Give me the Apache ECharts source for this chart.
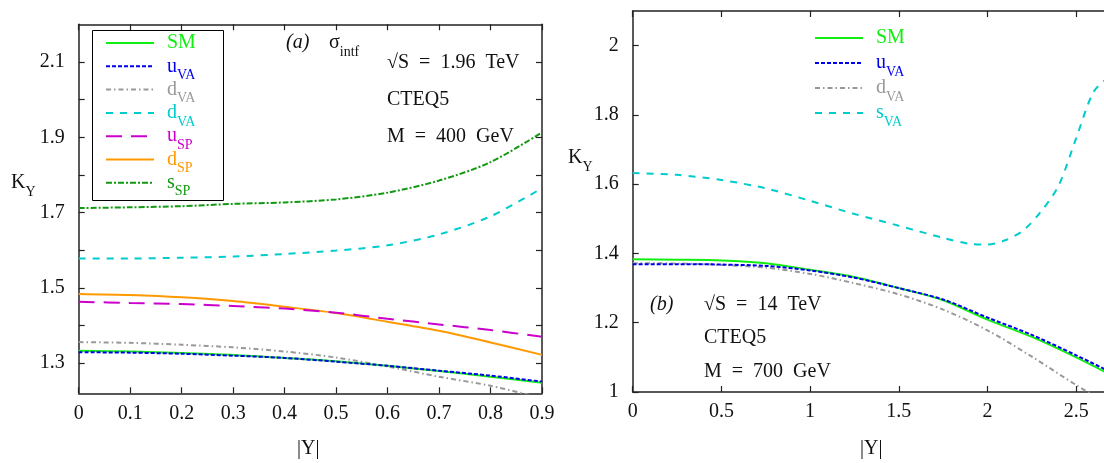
<!DOCTYPE html>
<html>
<head>
<meta charset="utf-8">
<script src="https://cdn.jsdelivr.net/npm/echarts@6/dist/echarts.min.js"></script>
<style>
html, body { margin: 0; padding: 0; background: #fff; }
#chart { width: 1104px; height: 463px; }
</style>
</head>
<body>
<div id="chart"></div>
<script>
// panel (a): sqrt(S) = 1.96 TeV, |Y| 0 .. 0.9
const xA = [0, 0.1, 0.2, 0.3, 0.4, 0.5, 0.6, 0.7, 0.8, 0.9]
const smA = [1.333, 1.331, 1.327, 1.322, 1.314, 1.305, 1.293, 1.279, 1.264, 1.248]
const uVaA = [1.329, 1.328, 1.325, 1.320, 1.314, 1.304, 1.293, 1.280, 1.267, 1.251]
const dVaGrayA = [1.356, 1.354, 1.349, 1.342, 1.331, 1.315, 1.291, 1.264, 1.240, 1.207]
const dVaCyanA = [1.578, 1.578, 1.580, 1.583, 1.590, 1.599, 1.613, 1.642, 1.690, 1.765]
const uSpA = [1.463, 1.460, 1.457, 1.452, 1.445, 1.434, 1.418, 1.403, 1.388, 1.370]
const dSpA = [1.484, 1.481, 1.475, 1.465, 1.450, 1.433, 1.410, 1.386, 1.355, 1.322]
const sSpA = [1.712, 1.714, 1.717, 1.723, 1.727, 1.735, 1.753, 1.785, 1.834, 1.913]

// panel (b): sqrt(S) = 14 TeV
const xB = [0, 0.25, 0.5, 0.75, 1.0, 1.25, 1.5, 1.75, 2.0, 2.25, 2.5, 2.7]
const smB = [1.383, 1.382, 1.380, 1.372, 1.353, 1.332, 1.300, 1.265, 1.209, 1.159, 1.100, 1.048]
const uVaB = [1.369, 1.369, 1.368, 1.364, 1.351, 1.330, 1.300, 1.267, 1.215, 1.165, 1.106, 1.056]
const dVaB = [1.372, 1.371, 1.367, 1.359, 1.341, 1.314, 1.282, 1.238, 1.178, 1.102, 1.020, 0.960]
const xSvaB = [0, 0.25, 0.5, 0.75, 1.0, 1.25, 1.5, 1.75, 1.9, 2.0, 2.1, 2.2, 2.3, 2.4, 2.5, 2.6, 2.7]
const sVaB = [1.632, 1.627, 1.612, 1.588, 1.552, 1.514, 1.480, 1.445, 1.428, 1.426, 1.438, 1.466, 1.520, 1.595, 1.733, 1.868, 1.915]

// ticks
const xTicksA = [0, 0.1, 0.2, 0.3, 0.4, 0.5, 0.6, 0.7, 0.8, 0.9]
const yTicksA = [1.3, 1.4, 1.5, 1.6, 1.7, 1.8, 1.9, 2.0, 2.1]
const yLabelsA = [1.3, 1.5, 1.7, 1.9, 2.1]
const xTicksB = [0, 0.5, 1, 1.5, 2, 2.5, 3]
const yTicksB = [1, 1.2, 1.4, 1.6, 1.8, 2]

// legend entries, in order
const legendA = ['SM', 'uVA', 'dVA', 'dVA2', 'uSP', 'dSP', 'sSP']
const legendB = ['SMb', 'uVAb', 'dVAb', 'sVAb']

const FONT = 'Liberation Serif'
const AXIS_COLOR = '#222'
const SP = '\u2002' // wider space, like the postscript output
const LH = 32 // line box tall enough to push subscripts down

const rich = {
    m: { fontFamily: FONT, fontSize: 20, lineHeight: LH },
    s: { fontFamily: FONT, fontSize: 14, verticalAlign: 'bottom' },
    i: { fontFamily: FONT, fontSize: 20, lineHeight: LH, fontStyle: 'italic' }
}

const legendText = {
    SM: '{m|SM}', uVA: '{m|u}{s|VA}', dVA: '{m|d}{s|VA}', dVA2: '{m|d}{s|VA}',
    uSP: '{m|u}{s|SP}', dSP: '{m|d}{s|SP}', sSP: '{m|s}{s|SP}',
    SMb: '{m|SM}', uVAb: '{m|u}{s|VA}', dVAb: '{m|d}{s|VA}', sVAb: '{m|s}{s|VA}'
}

const colors = {
    SM: '#11ee11', uVA: '#0000ee', dVA: '#999999', dVA2: '#00cccc',
    uSP: '#cc00cc', dSP: '#ff9900', sSP: '#119911',
    SMb: '#11ee11', uVAb: '#0000ee', dVAb: '#999999', sVAb: '#00cccc'
}

const dashes = {
    SM: 'solid', uVA: [4, 2], dVA: [5, 3, 1.5, 3], dVA2: [7, 7],
    uSP: [16, 9], dSP: 'solid', sSP: [6, 2, 2, 2],
    SMb: 'solid', uVAb: [4, 2], dVAb: [5, 3, 1.5, 3], sVAb: [7, 7]
}

function pairs(xs, ys) {
    return xs.map((x, i) => [x, ys[i]])
}

function line(name, idx, xs, ys) {
    return {
        name: name,
        type: 'line',
        xAxisIndex: idx * 2,
        yAxisIndex: idx * 2,
        data: pairs(xs, ys),
        smooth: 0.3,
        symbol: 'none',
        clip: true,
        lineStyle: { color: colors[name], width: 2, type: dashes[name] },
        itemStyle: { color: colors[name] },
        z: 3
    }
}

const fmt = (v) => String(+(+v).toFixed(2))

function xAxis(grid, pos, min, max, ticks) {
    return {
        type: 'value', gridIndex: grid, position: pos, min: min, max: max,
        axisLine: { show: true, onZero: false, lineStyle: { color: AXIS_COLOR, width: 1.5 } },
        axisTick: { show: true, inside: true, length: 6, customValues: ticks, lineStyle: { color: AXIS_COLOR, width: 1.2 } },
        axisLabel: {
            show: pos === 'bottom', customValues: ticks, formatter: fmt, margin: 10,
            fontFamily: FONT, fontSize: 20, color: '#111'
        },
        splitLine: { show: false }
    }
}

function yAxis(grid, pos, min, max, ticks, labels) {
    return {
        type: 'value', gridIndex: grid, position: pos, min: min, max: max,
        axisLine: { show: true, onZero: false, lineStyle: { color: AXIS_COLOR, width: 1.5 } },
        axisTick: { show: true, inside: true, length: 6, customValues: ticks, lineStyle: { color: AXIS_COLOR, width: 1.2 } },
        axisLabel: {
            show: pos === 'left', customValues: labels, formatter: fmt, margin: 14,
            fontFamily: FONT, fontSize: 20, color: '#111'
        },
        splitLine: { show: false }
    }
}

function txt(x, y, text, color) {
    return {
        type: 'text', x: x, y: y, z: 10,
        style: { text: text, rich: rich, fill: color || '#111', verticalAlign: 'middle', font: '20px ' + FONT }
    }
}

// legend key: short line sample + coloured label
function legendItems(names, x0, y0, step) {
    const out = []
    names.forEach((n, i) => {
        const y = y0 + i * step
        const d = dashes[n]
        out.push({
            type: 'line', z: 10,
            shape: { x1: x0, y1: y, x2: x0 + 48, y2: y },
            style: { stroke: colors[n], lineWidth: 2, lineDash: d === 'solid' ? null : d }
        })
        out.push(txt(x0 + 61, y, legendText[n], colors[n]))
    })
    return out
}

const chart = echarts.init(document.getElementById('chart'))
chart.setOption({
    animation: false,
    backgroundColor: '#fff',
    grid: [
        { left: 78.7, top: 24.3, width: 463.3, height: 369, outerBoundsMode: 'none' },
        { left: 632.7, top: 11, width: 532.2, height: 381, outerBoundsMode: 'none' }
    ],
    xAxis: [
        xAxis(0, 'bottom', 0, 0.9, xTicksA),
        xAxis(0, 'top', 0, 0.9, xTicksA),
        xAxis(1, 'bottom', 0, 3, xTicksB),
        xAxis(1, 'top', 0, 3, xTicksB)
    ],
    yAxis: [
        yAxis(0, 'left', 1.22, 2.2, yTicksA, yLabelsA),
        yAxis(0, 'right', 1.22, 2.2, yTicksA, yLabelsA),
        yAxis(1, 'left', 1, 2.1, yTicksB, yTicksB),
        yAxis(1, 'right', 1, 2.1, yTicksB, yTicksB)
    ],
    series: [
        line('sSP', 0, xA, sSpA),
        line('dVA2', 0, xA, dVaCyanA),
        line('dSP', 0, xA, dSpA),
        line('uSP', 0, xA, uSpA),
        line('dVA', 0, xA, dVaGrayA),
        line('SM', 0, xA, smA),
        line('uVA', 0, xA, uVaA),
        line('sVAb', 1, xSvaB, sVaB),
        line('dVAb', 1, xB, dVaB),
        line('SMb', 1, xB, smB),
        line('uVAb', 1, xB, uVaB)
    ],
    graphic: [
        {
            type: 'rect', z: 9,
            shape: { x: 92.5, y: 30.5, width: 131, height: 170 },
            style: { fill: '#fff', stroke: '#000', lineWidth: 1 }
        },
        ...legendItems(legendA, 106, 43, 23.3),
        ...legendItems(legendB, 815, 38, 25),
        txt(286, 43, '{i|(a)}'),
        txt(329, 43, '{m|σ}{s|intf}'),
        txt(387, 63, '{m|√S' + SP + '=' + SP + '1.96' + SP + 'TeV}'),
        txt(387, 100, '{m|CTEQ5}'),
        txt(387, 137, '{m|M' + SP + '=' + SP + '400' + SP + 'GeV}'),
        txt(11, 183, '{m|K}{s|Y}'),
        txt(297, 449, '{m|\u007cY\u007c}'),
        txt(650, 305, '{i|(b)}'),
        txt(704, 305, '{m|√S' + SP + '=' + SP + '14' + SP + 'TeV}'),
        txt(704, 338, '{m|CTEQ5}'),
        txt(704, 372, '{m|M' + SP + '=' + SP + '700' + SP + 'GeV}'),
        txt(568, 158, '{m|K}{s|Y}'),
        txt(860, 449, '{m|\u007cY\u007c}')
    ]
})
</script>
</body>
</html>
